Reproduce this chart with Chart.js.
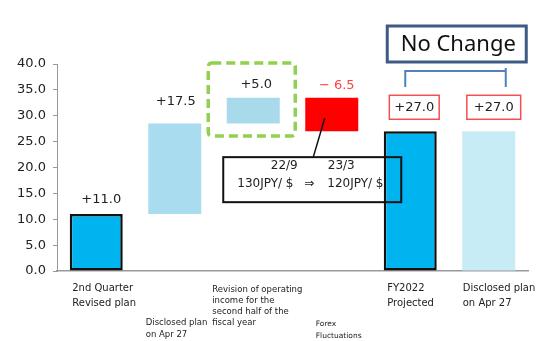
<!DOCTYPE html>
<html>
<head>
<meta charset="utf-8">
<script src="https://cdn.jsdelivr.net/npm/chart.js@4"></script>
<style>
  body { margin: 0; background: #fff; }
  canvas { display: block; }
</style>
</head>
<body>
<canvas id="chart" width="538" height="341"></canvas>
<script>
// Chart data
const categories = ["2nd Quarter Revised plan", "Disclosed plan on Apr 27", "Revision of operating income", "Forex fluctuations", "FY2022 Projected", "Disclosed plan on Apr 27"];
const labelLines = [
  ["2nd Quarter", "Revised plan"],
  ["Disclosed plan", "on Apr 27"],
  ["Revision of operating", "income for the", "second half of the", "fiscal year"],
  ["Forex", "Fluctuations"],
  ["FY2022", "Projected"],
  ["Disclosed plan", "on Apr 27"],
];
const barStart = [0, 11, 28.5, 33.5, 0, 0];
const barEnd = [11, 28.5, 33.5, 27, 27, 27];
const valueLabels = ["+11.0", "+17.5", "+5.0", "\u2212 6.5", "+27.0", "+27.0"];
const yTicks = [0, 5, 10, 15, 20, 25, 30, 35, 40];
const rateDates = ["22/9", "23/3"];
const rateValues = ["130JPY/ $", "120JPY/ $"];

// Styles
const barColors = ["#00B4F0", "#A8DCEE", "#A8DAEC", "#FF0000", "#00B4F0", "#C7ECF5"];
const barBorders = ["#111", "#A8DCEE", "#A8DAEC", "#FF0000", "#111", "#C7ECF5"];
const borderWidths = [2.5, 0, 0, 0, 2.5, 0];
// label layout: [x offset from category centre, first line y, line height, font size]
const labelLayout = [
  [-24, 288, 15, 10],
  [-29, 323, 12, 8.5],
  [-41, 290, 11, 8.5],
  [-16, 324, 12, 7.5],
  [-23, 288, 15, 10],
  [-26, 288, 15, 10],
];
// value label offsets: [dx from bar centre, dy from bar top]
const valueOffsets = [[5, -14], [1, -22], [3, -13], [5, -12], [4, -24], [5, -24]];

function roundRect(ctx, x, y, w, h, r) {
  ctx.beginPath();
  ctx.moveTo(x + r, y);
  ctx.lineTo(x + w - r, y);
  ctx.quadraticCurveTo(x + w, y, x + w, y + r);
  ctx.lineTo(x + w, y + h - r);
  ctx.quadraticCurveTo(x + w, y + h, x + w - r, y + h);
  ctx.lineTo(x + r, y + h);
  ctx.quadraticCurveTo(x, y + h, x, y + h - r);
  ctx.lineTo(x, y + r);
  ctx.quadraticCurveTo(x, y, x + r, y);
  ctx.closePath();
}

// Exchange-rate note box: fill and text go under the bars, border on top
function rateBox(chart) {
  const xs = chart.scales.x, ys = chart.scales.y;
  return {
    left: xs.getPixelForValue(2) - 30,
    right: xs.getPixelForValue(4) - 9,
    top: ys.getPixelForValue(22),
    bottom: ys.getPixelForValue(13.3),
  };
}

const annotations = {
  id: "annotations",
  beforeDatasetsDraw(chart) {
    const ctx = chart.ctx;
    const b = rateBox(chart);
    ctx.save();
    ctx.fillStyle = "#fff";
    ctx.fillRect(b.left, b.top, b.right - b.left, b.bottom - b.top);
    ctx.fillStyle = "#222";
    ctx.font = "12px 'DejaVu Sans'";
    ctx.textBaseline = "middle";
    ctx.textAlign = "center";
    ctx.fillText(rateDates[0], b.left + 61, b.top + 9);
    ctx.fillText(rateDates[1], b.left + 118, b.top + 9);
    ctx.textAlign = "left";
    ctx.fillText(rateValues[0], b.left + 14, b.top + 27);
    ctx.fillText("\u21D2", b.left + 81, b.top + 27);
    ctx.fillText(rateValues[1], b.left + 104, b.top + 27);
    ctx.restore();
  },
  afterDatasetsDraw(chart) {
    const ctx = chart.ctx;
    const xs = chart.scales.x, ys = chart.scales.y;
    const bars = chart.getDatasetMeta(0).data;
    const area = chart.chartArea;
    ctx.save();

    // rate box border and leader line to the red bar
    const b = rateBox(chart);
    ctx.strokeStyle = "#111";
    ctx.lineWidth = 2;
    ctx.strokeRect(b.left, b.top, b.right - b.left, b.bottom - b.top);
    ctx.lineWidth = 1.5;
    ctx.beginPath();
    ctx.moveTo(b.left + 90, b.top);
    ctx.lineTo(bars[3].x - 7, ys.getPixelForValue(29.5));
    ctx.stroke();

    // green dashed box round the +5.0 bar
    const gx = xs.getPixelForValue(2);
    ctx.strokeStyle = "#92D050";
    ctx.lineWidth = 3.5;
    ctx.setLineDash([9, 5]);
    roundRect(ctx, gx - 45, area.top - 1, 87, 73, 4);
    ctx.stroke();
    ctx.setLineDash([]);

    // value labels
    ctx.font = "13px 'DejaVu Sans'";
    ctx.textAlign = "center";
    ctx.textBaseline = "middle";
    bars.forEach((bar, i) => {
      const top = Math.min(bar.y, bar.base);
      const x = bar.x + valueOffsets[i][0];
      const y = top + valueOffsets[i][1];
      ctx.fillStyle = i === 3 ? "#FF4040" : "#222";
      ctx.fillText(valueLabels[i], x, y);
      if (i >= 4) {
        const w = ctx.measureText(valueLabels[i]).width + (i === 5 ? 14 : 10);
        ctx.strokeStyle = "#F05050";
        ctx.lineWidth = 1.5;
        ctx.strokeRect(x - w / 2, y - 12, w, 24);
      }
    });

    // "No Change" box and bracket
    const x4 = xs.getPixelForValue(4), x5 = xs.getPixelForValue(5);
    ctx.strokeStyle = "#3F5A85";
    ctx.lineWidth = 3;
    ctx.strokeRect(x4 - 23, 26, 139, 36);
    ctx.fillStyle = "#111";
    ctx.font = "22px 'Noto Sans'";
    ctx.fillText("No Change", x4 + 48, 45);
    ctx.strokeStyle = "#4F81BD";
    ctx.lineWidth = 2;
    ctx.beginPath();
    ctx.moveTo(x4 - 5, 87);
    ctx.lineTo(x4 - 5, 71);
    ctx.lineTo(x5 + 17, 71);
    ctx.moveTo(x5 + 17, 68);
    ctx.lineTo(x5 + 17, 87);
    ctx.stroke();

    // category labels
    ctx.fillStyle = "#222";
    ctx.textAlign = "left";
    labelLines.forEach((lines, i) => {
      const [dx, y0, lh, size] = labelLayout[i];
      ctx.font = size + "px 'DejaVu Sans'";
      lines.forEach((line, j) => {
        ctx.fillText(line, xs.getPixelForValue(i) + dx, y0 + j * lh);
      });
    });
    ctx.restore();
  },
};

new Chart(document.getElementById("chart"), {
  type: "bar",
  data: {
    labels: categories,
    datasets: [
      {
        data: barStart.map((s, i) => [s, barEnd[i]]),
        backgroundColor: barColors,
        borderColor: barBorders,
        borderWidth: borderWidths,
        borderSkipped: false,
        categoryPercentage: 1,
        barPercentage: 0.675,
      },
    ],
  },
  options: {
    responsive: false,
    animation: false,
    layout: { padding: { top: 64, right: 10, left: 0, bottom: 0 } },
    plugins: { legend: { display: false }, tooltip: { enabled: false } },
    scales: {
      x: {
        grid: { display: false },
        border: { color: "#999", width: 1.5 },
        ticks: { display: false },
        afterFit(s) { s.height = 70; },
      },
      y: {
        min: 0,
        max: 40,
        afterBuildTicks(s) { s.ticks = yTicks.map((v) => ({ value: v })); },
        ticks: {
          callback: (v) => v.toFixed(1),
          font: { family: "DejaVu Sans", size: 13 },
          color: "#222",
          padding: 7,
        },
        grid: { drawOnChartArea: false, tickLength: 4, color: "#999" },
        border: { color: "#999" },
        afterFit(s) { s.width = 57; },
      },
    },
  },
  plugins: [annotations],
});
</script>
</body>
</html>
